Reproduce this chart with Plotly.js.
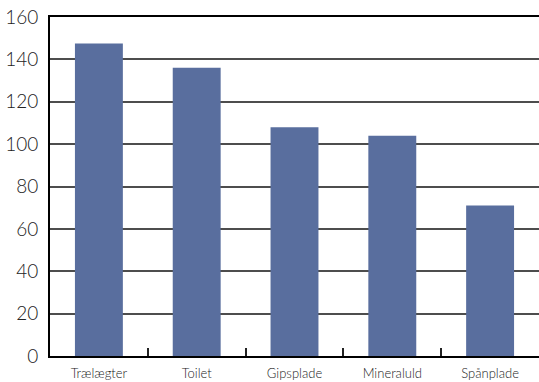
<!DOCTYPE html>
<html><head><meta charset="utf-8">
<script src="https://cdn.plot.ly/plotly-3.0.1.min.js"></script>
<style>html,body{margin:0;padding:0;background:#fff}</style>
</head><body>
<div id="chart" style="width:539px;height:382px"></div>
<script>
const categories = ["Trælægter", "Toilet", "Gipsplade", "Mineraluld", "Spånplade"];
const values = [147.5, 136, 108, 104, 71];
const yTicks = [0, 20, 40, 60, 80, 100, 120, 140, 160];

Plotly.newPlot('chart', [{
  type: 'bar',
  x: categories,
  y: values,
  marker: {color: '#596e9e'},
  hoverinfo: 'none'
}], {
  width: 539, height: 382,
  margin: {l: 50, r: 0, t: 17, b: 26, pad: 0},
  paper_bgcolor: '#fff', plot_bgcolor: '#fff',
  bargap: 0.51,
  showlegend: false,
  font: {family: 'Lato, "Open Sans", sans-serif', color: '#222'},
  xaxis: {
    type: 'category',
    showline: true, mirror: true, linecolor: '#000', linewidth: 2,
    ticks: 'inside', tickson: 'boundaries', ticklen: 8, tickwidth: 2, tickcolor: '#222',
    showgrid: false,
    tickfont: {size: 13, family: 'Lato, "Open Sans", sans-serif', color: '#222', weight: 300},
    ticklabelstandoff: 4,
    fixedrange: true
  },
  yaxis: {
    range: [0, 160],
    tickvals: yTicks,
    ticktext: yTicks.map(String),
    showline: true, linecolor: '#000', linewidth: 2,
    showgrid: true, gridcolor: '#4d4d4d', gridwidth: 2,
    zeroline: false,
    ticks: '',
    tickfont: {size: 19, family: 'Lato, "Open Sans", sans-serif', color: '#222', weight: 300},
    ticklabelstandoff: 6,
    fixedrange: true
  }
}, {displayModeBar: false, staticPlot: true});
</script>
</body></html>
